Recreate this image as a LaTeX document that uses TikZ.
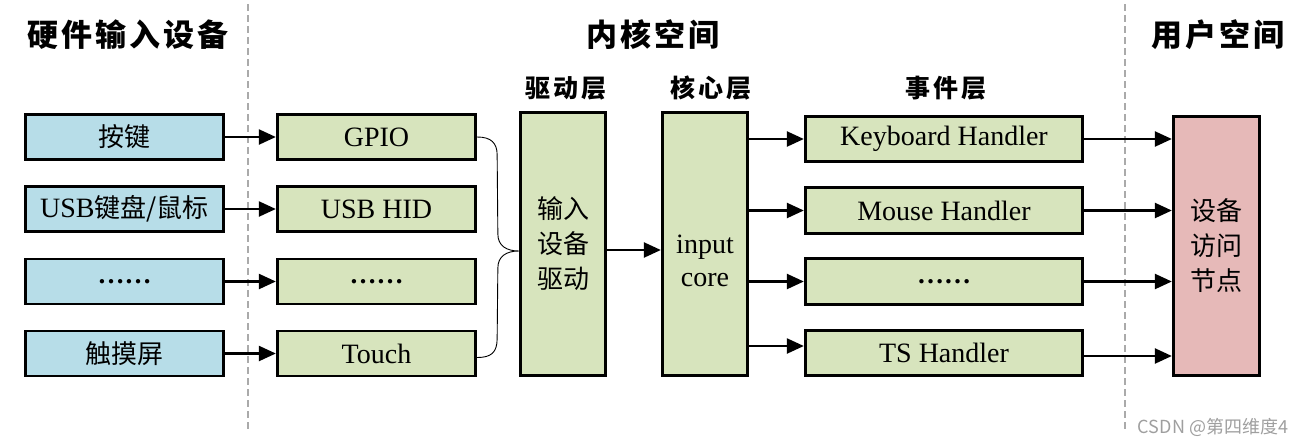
\documentclass[tikz,border=0pt]{standalone}
\usepackage{fontspec}
\setmainfont{Liberation Serif}
\newfontfamily\cjk{Noto Sans CJK SC}
\newfontfamily\cjkhdr[LetterSpace=10]{Noto Sans CJK SC}
\newfontfamily\cjksub[LetterSpace=13]{Noto Sans CJK SC}
\usetikzlibrary{arrows.meta,calc}
\definecolor{hwblue}{HTML}{B7DDE8}
\definecolor{kgreen}{HTML}{D7E4BD}
\definecolor{upink}{HTML}{E6B9B8}
\definecolor{dashgray}{HTML}{AAAAAA}
\begin{document}
\begin{tikzpicture}[x=1pt,y=-1pt,
  box/.style={draw, line width=2.8pt, inner sep=0pt, align=center},
  hw/.style={box, fill=hwblue, minimum width=198.5pt, minimum height=45pt},
  drv/.style={box, fill=kgreen, minimum width=198.5pt, minimum height=45pt},
  tall/.style={box, fill=kgreen, minimum width=85.5pt, minimum height=263.5pt},
  evt/.style={box, fill=kgreen, minimum width=277.5pt, minimum height=45.5pt},
  usr/.style={box, fill=upink, minimum width=86.5pt, minimum height=259.5pt},
  lat/.style={font=\fontsize{28}{30}\selectfont},
  zh/.style={font=\cjk\fontsize{26}{35}\selectfont},
  dots/.style={font=\bfseries\fontsize{27}{30}\selectfont},
  hdr/.style={font=\cjkhdr\bfseries\fontsize{31}{33}\selectfont},
  sub/.style={font=\cjksub\bfseries\fontsize{25}{27}\selectfont},
  arr/.style={line width=2.3pt, -{Triangle[length=17pt,width=15pt]}},
  sep/.style={dashgray, line width=1.8pt, dash pattern=on 7pt off 4pt},
  brace/.style={line width=0.9pt}
]
\useasboundingbox (0,0) rectangle (1307,445);

% separators
\coordinate (s1t) at (248,4);
\coordinate (s1b) at (248,432);
\coordinate (s2t) at (1125,4);
\coordinate (s2b) at (1125,432);
\draw[sep] (s1t) -- (s1b);
\draw[sep] (s2t) -- (s2b);

% headers
\node[hdr] (h1) at (128,35) {硬件输入设备};
\node[hdr] (h2) at (653,35) {内核空间};
\node[hdr] (h3) at (1218,35) {用户空间};
\node[sub] (l1) at (566,88) {驱动层};
\node[sub] (l2) at (711,88) {核心层};
\node[sub] (l3) at (946,88) {事件层};

% hardware
\node[hw, zh] (a1) at (124.5,137) {按键};
\node[hw, zh] (a2) at (124.5,209) {{\rmfamily\fontsize{28}{30}\selectfont USB}键盘/鼠标};
\node[hw, dots] (a3) at (124.5,281.5) {……};
\node[hw, zh] (a4) at (124.5,353.5) {触摸屏};

% drivers
\node[drv, lat] (b1) at (376.5,137) {GPIO};
\node[drv, lat] (b2) at (376.5,209) {USB HID};
\node[drv, dots] (b3) at (376.5,281.5) {……};
\node[drv, lat] (b4) at (376.5,353.5) {Touch};

% driver layer / core
\node[tall, zh] (drvl) at (563,244) {输入\\设备\\驱动};
\node[tall] (core) at (705,244) {};
\node[lat, align=center, font=\fontsize{28}{33}\selectfont] (coretext) at (705,261) {input\\core};

% events
\node[evt, lat] (e1) at (944,139) {Keyboard Handler};
\node[evt, lat] (e2) at (944,210.5) {Mouse Handler};
\node[evt, dots] (e3) at (944,281.5) {……};
\node[evt, lat] (e4) at (944,353) {TS Handler};

% user
\node[usr, zh] (u) at (1216.5,246) {设备\\访问\\节点};

% arrows hw -> drivers
\foreach \i in {1,2,3,4} {
  \draw[arr] (a\i.east) -- (b\i.west);
}
% brace
\coordinate (btip) at ([yshift=-7pt]drvl.west);
\coordinate (bend) at ([yshift=-4pt]b4.east);
\draw[brace] (b1.east) .. controls +(14,0) and +(0,-12) .. ($(b1.east)+(20,18)$)
  -- ($(btip)+(-21,-17)$)
  .. controls +(0,12) and +(-12,0) .. (btip)
  .. controls +(-12,0) and +(0,-12) .. ($(btip)+(-21,17)$)
  -- ($(bend)+(20,-19)$)
  .. controls +(0,14) and +(14,0) .. (bend);

% driver -> core
\draw[arr] ([yshift=-6pt]drvl.east) -- ([yshift=-6pt]core.west);

% core -> events
\coordinate (e4in) at ([yshift=7pt]e4.west);
\coordinate (e4out) at ([yshift=-3pt]e4.east);
\draw[arr] (core.east |- e1.west) -- (e1.west);
\draw[arr] (core.east |- e2.west) -- (e2.west);
\draw[arr] (core.east |- e3.west) -- (e3.west);
\draw[arr] (core.east |- e4in) -- (e4in);

% events -> user
\draw[arr] (e1.east) -- (e1.east -| u.west);
\draw[arr] (e2.east) -- (e2.east -| u.west);
\draw[arr] (e3.east) -- (e3.east -| u.west);
\draw[arr] (e4out) -- (e4out -| u.west);

% watermark
\node[text=gray!75, font=\cjk\fontsize{18}{20}\selectfont] (wm) at (1213,427) {CSDN @第四维度4};
\end{tikzpicture}
\end{document}
